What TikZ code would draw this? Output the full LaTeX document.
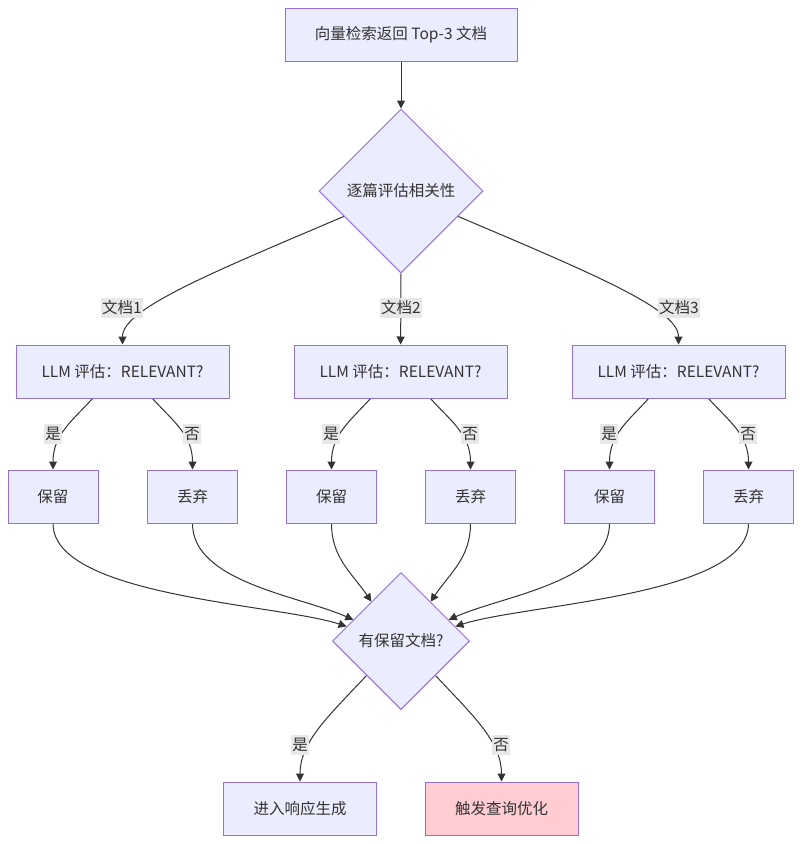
\documentclass[tikz,border=0pt]{standalone}
\usepackage{fontspec}
\setmainfont{Noto Sans CJK SC}
\usetikzlibrary{
  shapes.geometric,
  backgrounds,
  arrows.meta,
}
\definecolor{boxfill}{HTML}{ECECFF}
\definecolor{boxline}{HTML}{9370DB}
\definecolor{edgeline}{HTML}{333333}
\definecolor{lblfill}{HTML}{E8E8E8}
\definecolor{dropfill}{HTML}{FFCDD2}
\tikzset{
  proc/.style={
    rectangle,
    minimum height=53pt,
    text centered,
    line width=1pt,
    draw=boxline,
    fill=boxfill
  },
  decision/.style={
    diamond,
    aspect=1,
    inner sep=1pt,
    text centered,
    line width=1pt,
    draw=boxline,
    fill=boxfill
  },
  refine/.style={
    proc,
    fill=dropfill
  },
  edgelbl/.style={
    rectangle,
    inner xsep=1pt,
    inner ysep=3pt,
    fill=lblfill
  },
  arrow/.style={
    line width=1pt,
    draw=edgeline,
    -{Triangle[length=8pt, width=8pt]},
  },
}

\begin{document}
\begin{tikzpicture}[x=1pt, y=1pt,
  every node/.style={text=edgeline, font=\fontsize{15.5}{18}\selectfont}]

  \useasboundingbox (0,0) rectangle (802,-844);

  % Retrieval and grading
  \node (top) [proc, minimum width=232pt] at (401,-35) {向量检索返回 Top-3 文档};
  \node (grade) [decision, minimum size=164pt] at (401,-191) {逐篇评估相关性};

  \node (llm1) [proc, minimum width=213pt] at (122.5,-371.5) {LLM 评估：RELEVANT?};
  \node (llm2) [proc, minimum width=213pt] at (400.5,-371.5) {LLM 评估：RELEVANT?};
  \node (llm3) [proc, minimum width=213pt] at (678.5,-371.5) {LLM 评估：RELEVANT?};

  % Keep / drop per document
  \node (keep1) [proc, minimum width=90pt] at (53,-496.5) {保留};
  \node (drop1) [proc, minimum width=90pt] at (192.5,-496.5) {丢弃};
  \node (keep2) [proc, minimum width=90pt] at (331.5,-496.5) {保留};
  \node (drop2) [proc, minimum width=90pt] at (470.5,-496.5) {丢弃};
  \node (keep3) [proc, minimum width=90pt] at (609.5,-496.5) {保留};
  \node (drop3) [proc, minimum width=90pt] at (748.5,-496.5) {丢弃};

  % Final check
  \node (anykept) [decision, minimum size=137pt] at (401,-641) {有保留文档?};
  \node (gen) [proc, minimum width=153pt] at (300,-808.5) {进入响应生成};
  \node (rewrite) [refine, minimum width=153pt] at (501.5,-808.5) {触发查询优化};

  % Edge labels
  \node (doc1) [edgelbl] at (122,-308) {文档1};
  \node (doc2) [edgelbl] at (401,-308) {文档2};
  \node (doc3) [edgelbl] at (679,-308) {文档3};
  \node (yes1) [edgelbl] at (53,-434) {是};
  \node (no1) [edgelbl] at (192,-434) {否};
  \node (yes2) [edgelbl] at (331,-434) {是};
  \node (no2) [edgelbl] at (470,-434) {否};
  \node (yes3) [edgelbl] at (609,-434) {是};
  \node (no3) [edgelbl] at (748,-434) {否};
  \node (yes0) [edgelbl] at (300,-745) {是};
  \node (no0) [edgelbl] at (501,-745) {否};

  % Arrows
  \begin{scope}[on background layer]
    \fill[white] (0,0) rectangle (802,-844);

    \draw [arrow] (top) -- (grade);
    \draw [arrow] (grade.204) to[out=203, in=90, out distance=150pt, in distance=35pt] (llm1.north);
    \draw [arrow] (grade.south) -- (llm2);
    \draw [arrow] (grade.336) to[out=337, in=90, out distance=150pt, in distance=35pt] (llm3.north);

    \draw [arrow] (llm1.222) to[out=228, in=90, out distance=30pt, in distance=35pt] (keep1.north);
    \draw [arrow] (llm1.318) to[out=312, in=90, out distance=30pt, in distance=35pt] (drop1.north);
    \draw [arrow] (llm2.222) to[out=228, in=90, out distance=30pt, in distance=35pt] (keep2.north);
    \draw [arrow] (llm2.318) to[out=312, in=90, out distance=30pt, in distance=35pt] (drop2.north);
    \draw [arrow] (llm3.222) to[out=228, in=90, out distance=30pt, in distance=35pt] (keep3.north);
    \draw [arrow] (llm3.318) to[out=312, in=90, out distance=30pt, in distance=35pt] (drop3.north);

    \draw [arrow] (keep1.south) to[out=270, in=162, looseness=0.6] (anykept.165);
    \draw [arrow] (drop1.south) to[out=270, in=156, looseness=0.8] (anykept.156);
    \draw [arrow] (keep2.south) to[out=270, in=124] (anykept.127);
    \draw [arrow] (drop2.south) to[out=270, in=56] (anykept.53);
    \draw [arrow] (keep3.south) to[out=270, in=24, looseness=0.8] (anykept.24);
    \draw [arrow] (drop3.south) to[out=270, in=18, looseness=0.6] (anykept.15);

    \draw [arrow] (anykept.south west) to[out=227, in=90, out distance=55pt, in distance=40pt] (gen.north);
    \draw [arrow] (anykept.south east) to[out=313, in=90, out distance=55pt, in distance=40pt] (rewrite.north);
  \end{scope}

\end{tikzpicture}
\end{document}
